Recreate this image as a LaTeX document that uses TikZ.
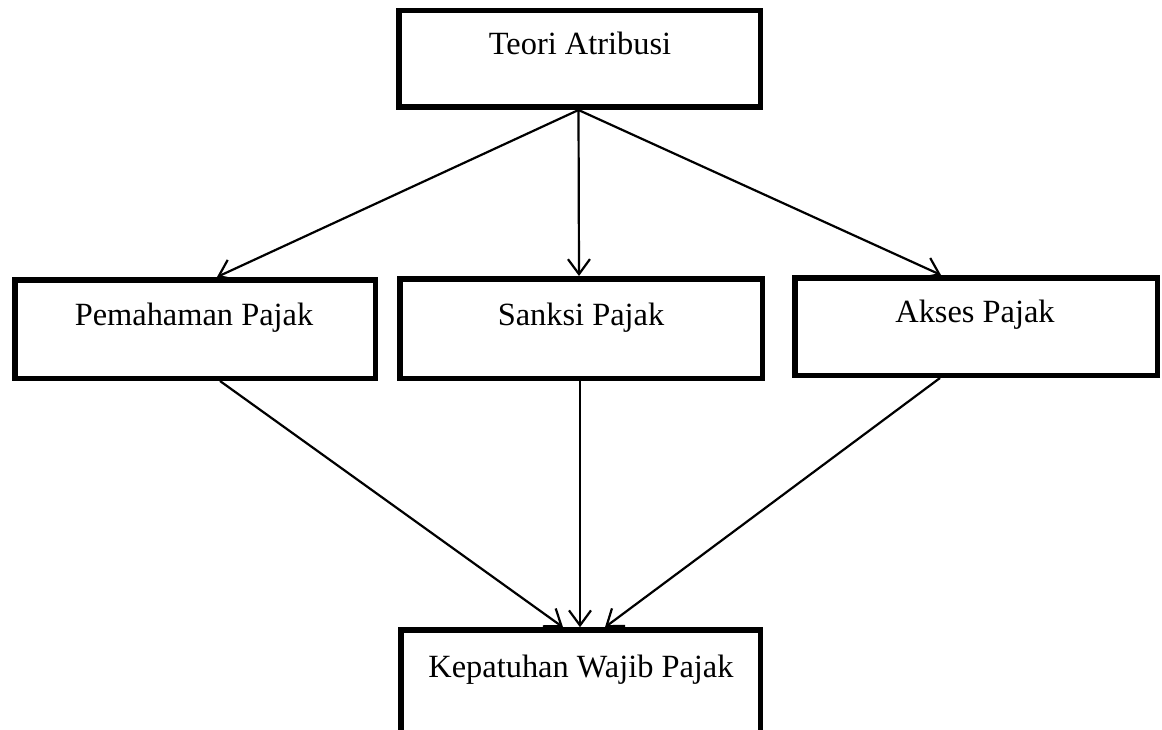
\documentclass[tikz,border=0pt]{standalone}
\usepackage{fontspec}
\setmainfont{Liberation Serif}
\usetikzlibrary{arrows.meta}
\begin{document}
\begin{tikzpicture}[x=1pt,y=-1pt,
  box/.style={draw,line width=5.5pt,inner sep=0pt,fill=white},
  lbl/.style={anchor=base,inner sep=0pt,font=\fontsize{32.4}{38}\selectfont},
  link/.style={line width=2.2pt,-{Straight Barb[length=15pt,width=22pt]}}]
\useasboundingbox (0,0) rectangle (1162,730);
\clip (0,0) rectangle (1162,730);
\fill[white] (0,0) rectangle (1162,730);
\node[box,minimum width=361.5pt,minimum height=96.5pt] (top) at (579.5,59) {};
\node[box,minimum width=360.5pt,minimum height=98.5pt] (pem) at (195,329) {};
\node[box,minimum width=362.5pt,minimum height=99.5pt] (san) at (581,328.5) {};
\node[box,minimum width=362.5pt,minimum height=97.5pt] (aks) at (976,326.5) {};
\node[box,minimum width=359.5pt,minimum height=120pt] (kep) at (580.5,690) {};
\node[lbl] (ttop) at (580,55) {Teori Atribusi};
\node[lbl] (tpem) at (194,325) {Pemahaman Pajak};
\node[lbl] (tsan) at (581,325) {Sanksi Pajak};
\node[lbl] (taks) at (975,322) {Akses Pajak};
\node[lbl] (tkep) at (581,677) {Kepatuhan Wajib Pajak};
\coordinate (s) at ([xshift=-1pt]top.south);
\draw[link] (s) -- ([xshift=22pt]pem.north);
\draw[link] (s) -- ([xshift=-2pt]san.north);
\draw[link] (s) -- ([xshift=-35pt]aks.north);
\draw[link] ([xshift=25pt]pem.south) -- ([xshift=-17.5pt]kep.north);
\draw[link] ([xshift=-1pt]san.south) -- ([xshift=-0.5pt]kep.north);
\draw[link] ([xshift=-36pt]aks.south) -- ([xshift=24.5pt]kep.north);
\end{tikzpicture}
\end{document}
